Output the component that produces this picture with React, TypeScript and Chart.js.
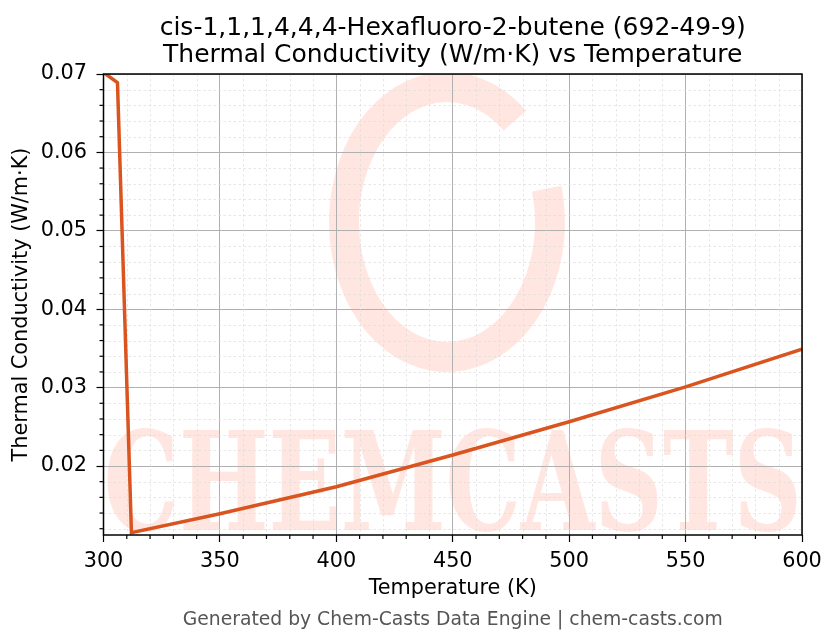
import { useEffect, useRef } from 'react';
import { Chart, registerables } from 'chart.js';

Chart.register(...registerables);

const temperatures = [300, 306, 312, 350, 400, 450, 500, 550, 600];
const conductivity = [0.0702, 0.0689, 0.0115, 0.0139, 0.01736, 0.0214, 0.02565, 0.0301, 0.0349];
const xTickValues = [300, 350, 400, 450, 500, 550, 600];
const yTickValues = [0.02, 0.03, 0.04, 0.05, 0.06, 0.07];
const titleLines = ['cis-1,1,1,4,4,4-Hexafluoro-2-butene (692-49-9)', 'Thermal Conductivity (W/m·K) vs Temperature'];
const xLabel = 'Temperature (K)';
const yLabel = 'Thermal Conductivity (W/m·K)';
const footer = 'Generated by Chem-Casts Data Engine | chem-casts.com';

const FONT = "'DejaVu Sans', sans-serif";

const decor = {
  id: 'decor',
  beforeDraw(chart: any) {
    const { ctx, chartArea } = chart;
    const { left, right, top, bottom } = chartArea;
    ctx.save();
    ctx.beginPath();
    ctx.rect(left, top, right - left, bottom - top);
    ctx.clip();
    // ring logo
    ctx.strokeStyle = 'rgba(255, 205, 195, 0.5)';
    ctx.lineWidth = 30;
    ctx.beginPath();
    ctx.ellipse(447, 222, 103, 135, 0, -0.25, Math.PI * 2 - 0.85);
    ctx.stroke();
    // word mark
    ctx.fillStyle = 'rgba(255, 205, 195, 0.5)';
    ctx.font = `bold 130px 'DejaVu Serif', serif`;
    ctx.textBaseline = 'alphabetic';
    const word = 'CHEMCASTS';
    const w = ctx.measureText(word).width;
    ctx.translate(left, 530);
    ctx.scale((right - left) / w, 1.05);
    ctx.fillText(word, 0, 0);
    ctx.restore();
  },
  beforeDatasetsDraw(chart: any) {
    const { ctx, chartArea, scales } = chart;
    const { left, right, top, bottom } = chartArea;
    const x = scales.x;
    const y = scales.y;
    ctx.save();
    ctx.strokeStyle = '#dcdcdc';
    ctx.lineWidth = 0.7;
    ctx.setLineDash([2.5, 2.5]);
    for (let v = 310; v < 600; v += 10) {
      if (v % 50 === 0) continue;
      const px = Math.round(x.getPixelForValue(v)) + 0.5;
      ctx.beginPath();
      ctx.moveTo(px, top);
      ctx.lineTo(px, bottom);
      ctx.stroke();
    }
    for (let i = 6; i <= 35; i++) {
      if (i % 5 === 0) continue;
      const py = Math.round(y.getPixelForValue(i * 0.002)) + 0.5;
      if (py > bottom || py < top) continue;
      ctx.beginPath();
      ctx.moveTo(left, py);
      ctx.lineTo(right, py);
      ctx.stroke();
    }
    ctx.restore();
  },
  afterDraw(chart: any) {
    const { ctx, chartArea, scales } = chart;
    const { left, right, top, bottom } = chartArea;
    const x = scales.x;
    const y = scales.y;
    ctx.save();
    ctx.strokeStyle = '#000';
    ctx.lineWidth = 1.2;
    for (let v = 310; v < 600; v += 10) {
      if (v % 50 === 0) continue;
      const px = x.getPixelForValue(v);
      ctx.beginPath();
      ctx.moveTo(px, bottom);
      ctx.lineTo(px, bottom + 4);
      ctx.stroke();
    }
    for (let i = 6; i <= 35; i++) {
      if (i % 5 === 0) continue;
      const py = y.getPixelForValue(i * 0.002);
      if (py > bottom || py < top) continue;
      ctx.beginPath();
      ctx.moveTo(left, py);
      ctx.lineTo(left - 4, py);
      ctx.stroke();
    }
    ctx.lineWidth = 1.5;
    ctx.strokeRect(left, top, right - left, bottom - top);
    ctx.fillStyle = '#555';
    ctx.font = `18.75px ${FONT}`;
    ctx.textAlign = 'center';
    ctx.textBaseline = 'middle';
    ctx.fillText(footer, (left + right) / 2, 620);
    ctx.restore();
  },
};

export default function App() {
  const ref = useRef<HTMLCanvasElement | null>(null);
  useEffect(() => {
    if (!ref.current) return;
    const chart = new Chart(ref.current, {
      type: 'line',
      data: {
        datasets: [
          {
            data: temperatures.map((t, i) => ({ x: t, y: conductivity[i] })),
            borderColor: '#d9541e',
            borderWidth: 3.5,
            pointRadius: 0,
            tension: 0,
            fill: false,
          },
        ],
      },
      options: {
        animation: false,
        responsive: false,
        layout: { padding: { left: 5.5, right: 34, top: 0, bottom: 38.5 } },
        plugins: {
          legend: { display: false },
          tooltip: { enabled: false },
          title: {
            display: true,
            text: titleLines,
            fullSize: false,
            color: '#000',
            font: { family: FONT, size: 25, weight: 'normal', lineHeight: 1.1 },
            padding: { top: 14.5, bottom: 4.5 },
          },
        },
        scales: {
          x: {
            type: 'linear',
            min: 300,
            max: 600,
            afterBuildTicks: (s: any) => {
              s.ticks = xTickValues.map((v) => ({ value: v }));
            },
            afterFit: (s: any) => {
              s.height = 70.5;
            },
            ticks: {
              color: '#000',
              font: { family: FONT, size: 20.8 },
              padding: 7,
              maxRotation: 0,
              callback: (v: any) => String(v),
            },
            grid: { color: '#b0b0b0', lineWidth: 1, tickColor: '#000', tickLength: 7, tickWidth: 1.2 },
            border: { display: false },
            title: {
              display: true,
              text: xLabel,
              color: '#000',
              font: { family: FONT, size: 20.8 },
              padding: { top: 4, bottom: 4 },
            },
          },
          y: {
            type: 'linear',
            min: 0.0112,
            max: 0.07,
            afterBuildTicks: (s: any) => {
              s.ticks = yTickValues.map((v) => ({ value: v }));
            },
            afterFit: (s: any) => {
              s.width = 98;
            },
            ticks: {
              color: '#000',
              font: { family: FONT, size: 20.8 },
              padding: 9.5,
              callback: (v: any) => Number(v).toFixed(2),
            },
            grid: { color: '#b0b0b0', lineWidth: 1, tickColor: '#000', tickLength: 7, tickWidth: 1.2 },
            border: { display: false },
            title: {
              display: true,
              text: yLabel,
              color: '#000',
              font: { family: FONT, size: 20.8 },
              padding: { top: 4, bottom: 4 },
            },
          },
        },
      },
      plugins: [decor],
    });
    return () => chart.destroy();
  }, []);
  return (
    <div style={{ width: 836, height: 644 }}>
      <style>{`body{margin:0}`}</style>
      <canvas ref={ref} width={836} height={644} style={{ display: 'block' }} />
    </div>
  );
}
